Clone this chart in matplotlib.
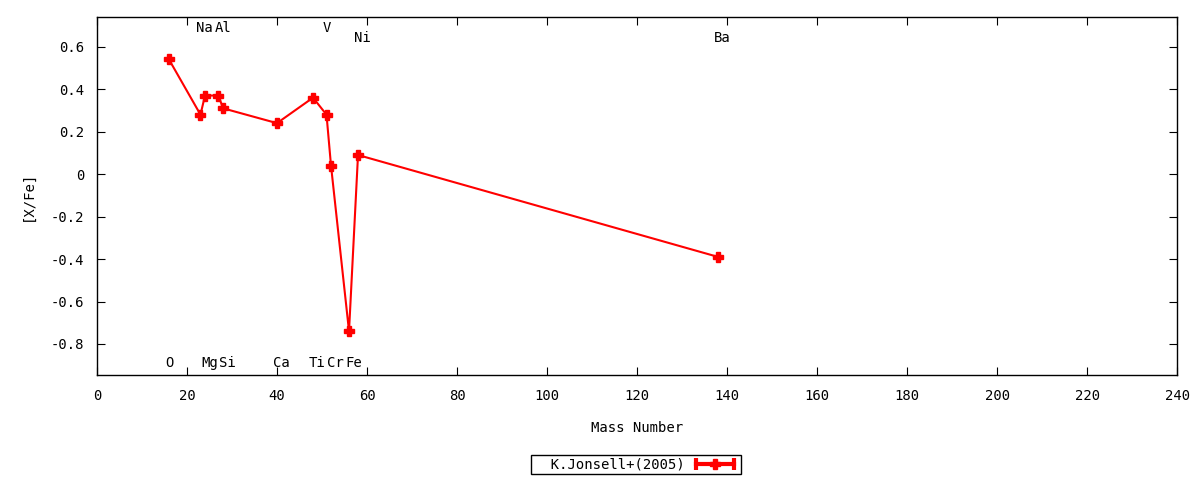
import matplotlib
matplotlib.use("Agg")
import matplotlib.pyplot as plt
from matplotlib.lines import Line2D
from matplotlib.legend_handler import HandlerTuple, HandlerLine2D

# mass number, [X/Fe]
elements = ["O", "Na", "Mg", "Al", "Si", "Ca", "Ti", "V", "Cr", "Fe", "Ni", "Ba"]
mass = [16, 23, 24, 27, 28, 40, 48, 51, 52, 56, 58, 138]
xfe = [0.54, 0.28, 0.37, 0.37, 0.31, 0.24, 0.36, 0.28, 0.04, -0.74, 0.09, -0.39]
# where each element label sits (y in data units)
label_y = [-0.89, 0.69, -0.89, 0.69, -0.89, -0.89, -0.89, 0.69, -0.89, -0.89, 0.64, 0.64]

plt.rcParams['font.family'] = ['DejaVu Sans Mono']
fs = 10

fig = plt.figure(figsize=(12, 4.8), dpi=100)
ax = fig.add_axes([0.0808, 0.2188, 0.9002, 0.7458])

ax.plot(mass, xfe, color="red", lw=1.5, marker="P", ms=7)

for el, m, ly in zip(elements, mass, label_y):
    ax.text(m - 0.9, ly, el, ha="left", va="center", fontsize=fs)

ax.set_xlim(0, 240)
ax.set_ylim(-0.946, 0.74)
ax.set_xticks(range(0, 241, 20))
ax.set_yticks([0.6, 0.4, 0.2, 0, -0.2, -0.4, -0.6, -0.8])
ax.set_yticklabels(["0.6", "0.4", "0.2", "0", "-0.2", "-0.4", "-0.6", "-0.8"])
ax.tick_params(direction="in", top=True, right=True, length=6, labelsize=fs)
ax.tick_params(axis="x", pad=10)
ax.tick_params(axis="y", pad=9)
for s in ax.spines.values():
    s.set_linewidth(1)

ax.set_xlabel("Mass Number", fontsize=fs, labelpad=13)
ax.set_ylabel("[X/Fe]", fontsize=fs, labelpad=12)

# legend sample: thick line with end bars and a plus in the middle
h_line = Line2D([], [], color="red", lw=3, marker="|", ms=9, mew=3)
h_mark = Line2D([], [], color="red", ls="none", marker="P", ms=7)
leg = fig.legend([(h_line, h_mark)], ["  K.Jonsell+(2005)"],
                 handler_map={tuple: HandlerTuple(ndivide=1),
                              h_mark: HandlerLine2D(numpoints=1)},
                 loc="center", bbox_to_anchor=(0.53, 0.0323), markerfirst=False,
                 fancybox=False, edgecolor="black", framealpha=1,
                 numpoints=2, handlelength=3.3, borderpad=0.2, borderaxespad=0,
                 handletextpad=0.5, fontsize=fs)
leg.get_frame().set_linewidth(1)

fig.savefig("out.png", dpi=100)
